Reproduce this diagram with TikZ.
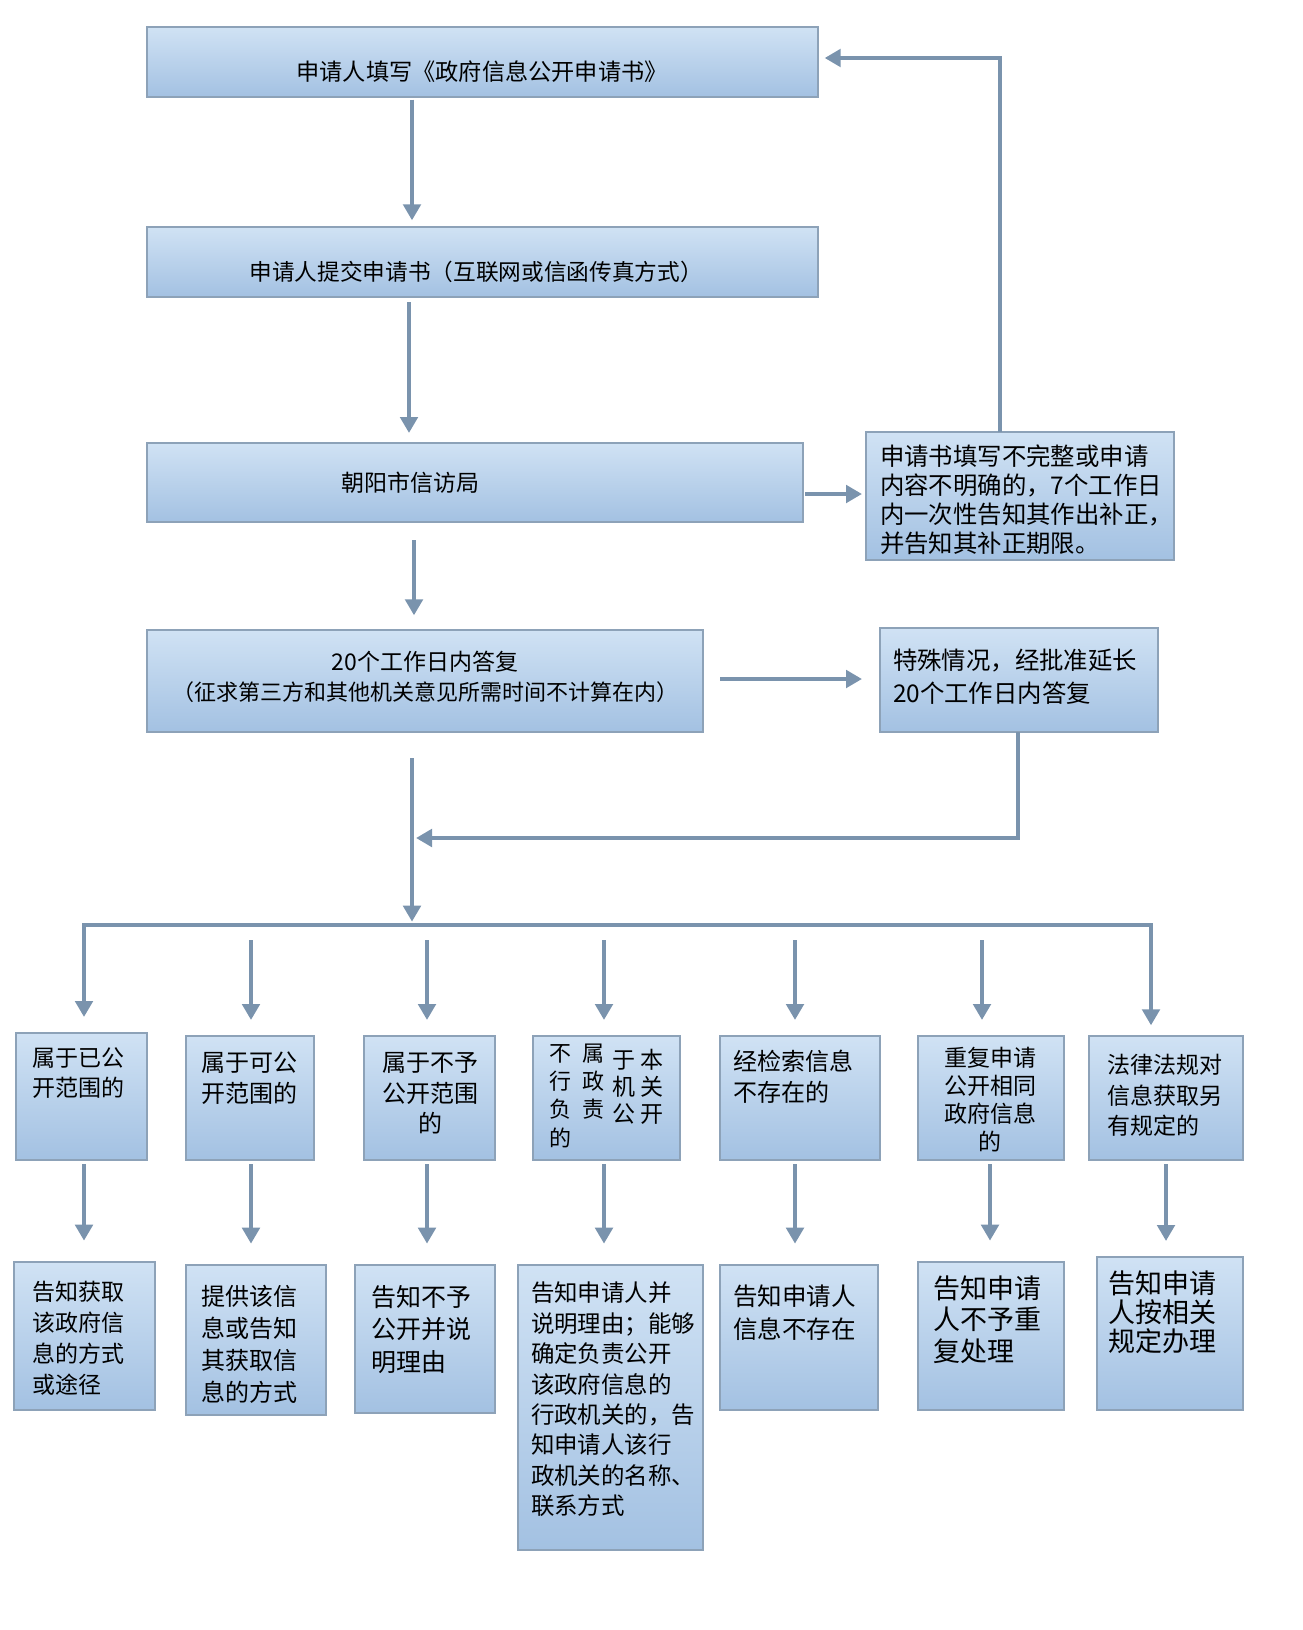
\documentclass[tikz,border=0pt]{standalone}
\usepackage{fontspec}
\setmainfont{Noto Sans CJK SC}
\usetikzlibrary{arrows.meta}
\definecolor{boxtop}{HTML}{D0E2F4}
\definecolor{boxbot}{HTML}{A3C1E2}
\definecolor{boxline}{HTML}{8DA2B8}
\definecolor{arrc}{HTML}{7A93AD}
\newcommand\mybox[5]{%
  \pgfmathsetmacro\bw{(#4-#2)*0.75}%
  \pgfmathsetmacro\bh{(#5-#3)*0.75}%
  \node[box, minimum width=\bw pt, minimum height=\bh pt, anchor=north west] (#1) at (#2,#3) {};}
\newcommand\fsz[2]{\fontsize{#1}{#2}\selectfont}
\begin{document}
\begin{tikzpicture}[x=0.75pt, y=-0.75pt,
  box/.style={draw=boxline, line width=1.2pt, top color=boxtop, bottom color=boxbot, inner sep=0pt, outer sep=0pt},
  txt/.style={inner sep=0pt, outer sep=0pt, text=black},
  arr/.style={draw=arrc, line width=3.6pt, -{Triangle[length=12pt, width=13pt]}},
  arrs/.style={draw=arrc, line width=3.6pt, {Triangle[length=12pt, width=13pt]}-{Triangle[length=12pt, width=13pt]}}]
\useasboundingbox (0,0) rectangle (1302,1630);

% ---- boxes ----
\mybox{B1}{147}{27}{818}{97}
\mybox{B2}{147}{227}{818}{297}
\mybox{B3}{147}{443}{803}{522}
\mybox{B4}{866}{432}{1174}{560}
\mybox{B5}{147}{630}{703}{732}
\mybox{B6}{880}{628}{1158}{732}
\mybox{R1}{16}{1033}{147}{1160}
\mybox{R2}{186}{1036}{314}{1160}
\mybox{R3}{364}{1036}{495}{1160}
\mybox{R4}{533}{1036}{680}{1160}
\mybox{R5}{720}{1036}{880}{1160}
\mybox{R6}{918}{1036}{1064}{1160}
\mybox{R7}{1089}{1036}{1243}{1160}
\mybox{S1}{14}{1262}{155}{1410}
\mybox{S2}{186}{1265}{326}{1415}
\mybox{S3}{355}{1265}{495}{1413}
\mybox{S4}{518}{1265}{703}{1550}
\mybox{S5}{720}{1265}{878}{1410}
\mybox{S6}{918}{1262}{1064}{1410}
\mybox{S7}{1097}{1257}{1243}{1410}

% ---- texts ----
\node[txt, font=\fsz{17.4pt}{22pt}] (t1) at (482,72) {申请人填写《政府信息公开申请书》};
\node[txt, font=\fsz{17pt}{22pt}] (t2) at (476,272) {申请人提交申请书（互联网或信函传真方式）};
\node[txt, font=\fsz{17.25pt}{22pt}] (t3) at (410,483) {朝阳市信访局};
\node[txt, font=\fsz{18.3pt}{21.75pt}, align=left, anchor=west] (t4) at (880,499.5)
  {申请书填写不完整或申请\\内容不明确的，7个工作日\\内一次性告知其作出补正，\\并告知其补正期限。};
\node[txt, font=\fsz{16.5pt}{22.5pt}, align=center] (t5) at (425,677)
  {{\fontsize{17.25pt}{22.5pt}\selectfont 20个工作日内答复}\\（征求第三方和其他机关意见所需时间不计算在内）};
\node[txt, font=\fsz{18.3pt}{24.75pt}, align=left, anchor=west] (t6) at (893,676.5)
  {特殊情况，经批准延长\\20个工作日内答复};

\node[txt, font=\fsz{17.25pt}{22.5pt}, align=left, anchor=west] (r1) at (32,1073) {属于已公\\开范围的};
\node[txt, font=\fsz{18pt}{23.25pt}, align=left, anchor=west] (r2) at (201,1078.5) {属于可公\\开范围的};
\node[txt, font=\fsz{18pt}{22.9pt}, align=center] (r3) at (430,1093.5) {属于不予\\公开范围\\的};
\node[txt, font=\fsz{16.5pt}{21.25pt}, align=left, anchor=west] (r4a) at (549,1095.5)
  {不\hspace{8.25pt}属\\行\hspace{8.25pt}政\\负\hspace{8.25pt}责\\的};
\node[txt, font=\fsz{17.25pt}{20.25pt}, align=left, anchor=west] (r4b) at (612,1087)
  {于\hspace{4.5pt}本\\机\hspace{4.5pt}关\\公\hspace{4.5pt}开};
\node[txt, font=\fsz{18pt}{23.25pt}, align=left, anchor=west] (r5) at (733,1076.5) {经检索信息\\不存在的};
\node[txt, font=\fsz{17.25pt}{21pt}, align=center] (r6) at (990,1100) {重复申请\\公开相同\\政府信息\\的};
\node[txt, font=\fsz{17.25pt}{22.9pt}, align=left, anchor=west] (r7) at (1107,1095.5) {法律法规对\\信息获取另\\有规定的};

\node[txt, font=\fsz{17.25pt}{23.25pt}, align=left, anchor=west] (s1) at (32,1338.5) {告知获取\\该政府信\\息的方式\\或途径};
\node[txt, font=\fsz{18pt}{24pt}, align=left, anchor=west] (s2) at (201,1344) {提供该信\\息或告知\\其获取信\\息的方式};
\node[txt, font=\fsz{18.75pt}{24.4pt}, align=left, anchor=west] (s3) at (371,1329.5) {告知不予\\公开并说\\明理由};
\node[txt, font=\fsz{17.6pt}{22.8pt}, align=left, anchor=west] (s4) at (531,1399.5)
  {告知申请人并\\说明理由；能够\\确定负责公开\\该政府信息的\\行政机关的，告\\知申请人该行\\政机关的名称、\\联系方式};
\node[txt, font=\fsz{18.4pt}{24.75pt}, align=left, anchor=west] (s5) at (733,1312.5) {告知申请人\\信息不存在};
\node[txt, font=\fsz{20.25pt}{23.6pt}, align=left, anchor=west] (s6) at (933,1319.5) {告知申请\\人不予重\\复处理};
\node[txt, font=\fsz{20.25pt}{21.75pt}, align=left, anchor=west] (s7) at (1108,1312) {告知申请\\人按相关\\规定办理};

% ---- helper coordinates ----
\coordinate (xa) at (412,0);
\coordinate (xb) at (409,0);
\coordinate (xc) at (414,0);
\coordinate (yd) at (0,494);
\coordinate (fb) at (1000,58);
\coordinate (ye) at (0,679);
\coordinate (jn) at (1018,838);
\coordinate (mg) at (412,838);
\coordinate (tk) at (412,925);
\coordinate (busL) at (84,925);
\coordinate (busR) at (1151,925);
\coordinate (m2) at (251,940);
\coordinate (m3) at (427,940);
\coordinate (m4) at (604,940);
\coordinate (m5) at (795,940);
\coordinate (m6) at (982,940);
\coordinate (d1) at (84,0);
\coordinate (d2) at (251,0);
\coordinate (d3) at (427,0);
\coordinate (d4) at (604,0);
\coordinate (d5) at (795,0);
\coordinate (d6) at (990,0);
\coordinate (d7) at (1166,0);

% ---- connectors ----
\draw[arr, shorten <=2pt, shorten >=5pt] (xa |- B1.south) -- (xa |- B2.north);
\draw[arr, shorten <=4pt, shorten >=7.5pt] (xb |- B2.south) -- (xb |- B3.north);
\draw[arr, shorten <=13.5pt, shorten >=11pt] (xc |- B3.south) -- (xc |- B5.north);
\draw[arr, shorten <=1.5pt, shorten >=3pt] (B3.east |- yd) -- (B4.west |- yd);
\draw[arr, shorten >=5pt] (fb |- B4.north) -- (fb) -- (B1.east |- fb);
\draw[arr, shorten <=13pt, shorten >=13.5pt] (B5.east |- ye) -- (B6.west |- ye);
\draw[arr, shorten >=3pt] (jn |- B6.south) -- (jn) -- (mg);
\draw[arr, shorten <=19.5pt, shorten >=2.5pt] (xa |- B5.south) -- (tk);
\draw[arrs, shorten <=12pt, shorten >=8pt] (R1.north -| busL) -- (busL) -- (busR) -- (R7.north -| busR);
\draw[arr, shorten >=12pt] (m2) -- (m2 |- R2.north);
\draw[arr, shorten >=12pt] (m3) -- (m3 |- R3.north);
\draw[arr, shorten >=12pt] (m4) -- (m4 |- R4.north);
\draw[arr, shorten >=12pt] (m5) -- (m5 |- R5.north);
\draw[arr, shorten >=12pt] (m6) -- (m6 |- R6.north);
\draw[arr, shorten <=3pt, shorten >=16pt] (d1 |- R1.south) -- (d1 |- S1.north);
\draw[arr, shorten <=3pt, shorten >=16pt] (d2 |- R2.south) -- (d2 |- S2.north);
\draw[arr, shorten <=3pt, shorten >=16pt] (d3 |- R3.south) -- (d3 |- S3.north);
\draw[arr, shorten <=3pt, shorten >=16pt] (d4 |- R4.south) -- (d4 |- S4.north);
\draw[arr, shorten <=3pt, shorten >=16pt] (d5 |- R5.south) -- (d5 |- S5.north);
\draw[arr, shorten <=3pt, shorten >=16pt] (d6 |- R6.south) -- (d6 |- S6.north);
\draw[arr, shorten <=3pt, shorten >=12pt] (d7 |- R7.south) -- (d7 |- S7.north);
\end{tikzpicture}
\end{document}
